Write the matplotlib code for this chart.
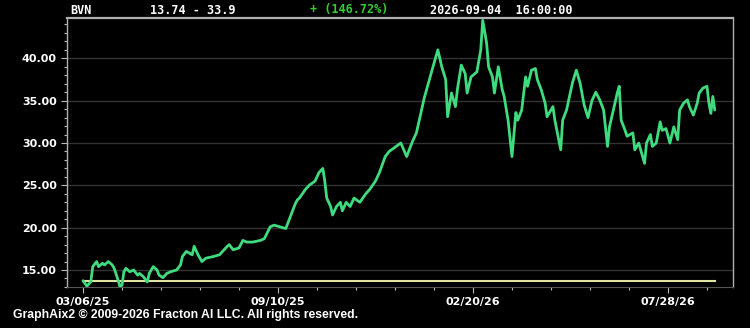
import matplotlib
matplotlib.use("Agg")
import matplotlib.pyplot as plt
from matplotlib.ticker import MultipleLocator, FixedLocator

ticker_sym = "BVN"
start_price = 13.74
end_price = 33.9
pct_change = "+ (146.72%)"
stamp = "2026-09-04  16:00:00"

bar_index = [0, 2, 4, 5, 7, 8, 10, 11, 13, 15, 16, 18, 19, 20, 21, 22, 24, 26, 28, 29,
             31, 33, 34, 36, 38, 39, 41, 43, 45, 48, 50, 51, 53, 56, 57, 59, 61, 63, 67, 70,
             74, 75, 77, 80, 82, 84, 87, 91, 93, 96, 98, 101, 104, 107, 109, 110, 111, 114, 116, 119,
             121, 123, 124, 125, 127, 128, 130, 132, 133, 135, 137, 139, 142, 145, 147, 150, 152, 155, 157, 160,
             163, 166, 169, 171, 174, 175, 178, 179, 182, 184, 186, 187, 189, 191, 192, 194, 196, 197, 199, 202,
             204, 205, 207, 208, 210, 211, 213, 215, 216, 218, 220, 222, 223, 225, 227, 228, 230, 232, 233, 235,
             237, 238, 241, 242, 245, 246, 248, 251, 253, 255, 257, 259, 261, 263, 265, 267, 269, 270, 272, 274,
             275, 276, 278, 279, 282, 283, 285, 287, 288, 289, 291, 292, 294, 296, 297, 299, 301, 303, 305, 306,
             308, 310, 311, 313, 315, 316, 318, 320, 321, 322, 323, 324]
close = [13.74, 13.1, 13.6, 15.4, 16.0, 15.4, 15.8, 15.6, 16.0, 15.6, 15.2, 13.8, 13.0, 13.2, 14.8, 15.2, 14.8, 15.0, 14.4, 14.6,
         14.2, 13.6, 14.6, 15.4, 15.0, 14.4, 14.1, 14.6, 14.8, 15.0, 15.6, 16.6, 17.2, 16.8, 17.8, 16.8, 16.0, 16.4, 16.6, 16.8,
         17.8, 18.0, 17.4, 17.6, 18.5, 18.3, 18.3, 18.5, 18.7, 20.1, 20.3, 20.1, 19.9, 21.7, 22.9, 23.3, 23.5, 24.5, 25.0, 25.5,
         26.5, 27.0, 25.5, 23.5, 22.5, 21.5, 22.5, 23.0, 22.0, 23.0, 22.5, 23.5, 23.0, 24.0, 24.5, 25.5, 26.5, 28.4, 29.0, 29.5,
         30.0, 28.4, 30.2, 31.2, 34.3, 35.3, 37.8, 38.6, 41.0, 39.0, 37.5, 33.1, 35.9, 34.3, 36.3, 39.2, 38.2, 35.9, 37.8, 38.4,
         41.0, 44.5, 41.8, 39.0, 37.8, 35.9, 39.0, 36.3, 35.5, 32.7, 28.4, 33.6, 32.7, 33.9, 37.8, 36.7, 38.6, 38.8, 37.5, 36.3,
         34.7, 33.1, 34.3, 32.7, 29.2, 32.7, 33.9, 37.1, 38.6, 37.0, 34.5, 33.0, 35.0, 36.0, 35.1, 33.9, 29.6, 31.9, 33.9, 35.9,
         36.7, 32.7, 31.5, 30.8, 31.2, 29.2, 30.0, 28.4, 27.6, 30.0, 31.0, 29.6, 30.0, 32.5, 31.5, 31.7, 30.0, 31.9, 30.4, 33.9,
         34.7, 35.1, 34.3, 33.3, 34.7, 35.9, 36.5, 36.7, 34.7, 33.5, 35.5, 33.9]

date_ticks = [0, 100, 200, 300]
date_labels = ["03/06/25", "09/10/25", "02/20/26", "07/28/26"]
y_ticks = [15, 20, 25, 30, 35, 40]

fig = plt.figure(figsize=(7.5, 3.28), dpi=100, facecolor="black")
ax = fig.add_axes([67 / 750, 1 - 287.3 / 328, (732.7 - 67) / 750, (287.3 - 17.7) / 328])
ax.set_facecolor("black")

for v in y_ticks:
    ax.axhline(v, color="#333333", lw=1.0, zorder=1)

ax.plot([bar_index[0], bar_index[-1]], [start_price, start_price], color="#dfe3a2", lw=1.5, zorder=2)
ax.plot(bar_index, close, color="#3fdc7f", lw=2.0, zorder=3,
        solid_joinstyle="round", solid_capstyle="round")

ax.set_xlim(-8.2, 333.2)
ax.set_ylim(12.96, 44.8)

ax.yaxis.set_major_locator(FixedLocator(y_ticks))
ax.yaxis.set_minor_locator(MultipleLocator(1))
ax.set_yticklabels([f"{v:.2f}" for v in y_ticks])
ax.xaxis.set_major_locator(FixedLocator(date_ticks))
ax.xaxis.set_minor_locator(MultipleLocator(20))
ax.set_xticklabels(date_labels)

ax.tick_params(axis="both", which="major", colors="#bbbbbb", labelcolor="white",
               labelsize=8, length=4, width=0.8)
ax.tick_params(axis="both", which="minor", colors="#bbbbbb", length=2.5, width=0.8)
ax.tick_params(axis="x", pad=3)
for lab in ax.get_xticklabels() + ax.get_yticklabels():
    lab.set_fontweight("bold")
    lab.set_family("DejaVu Sans")

ax.spines["top"].set_color("#b0b0b0")
ax.spines["top"].set_linewidth(1.6)
ax.spines["left"].set_color("#b0b0b0")
ax.spines["left"].set_linewidth(1.0)
ax.spines["right"].set_color("#b0b0b0")
ax.spines["right"].set_linewidth(1.0)
ax.spines["bottom"].set_color("#555555")
ax.spines["bottom"].set_linewidth(0.8)

hdr = dict(family="DejaVu Sans Mono", fontweight="bold", fontsize=8.5, va="center", ha="left")
fig.text(70 / 750, 1 - 10 / 328, ticker_sym, color="white", **hdr)
fig.text(150 / 750, 1 - 10 / 328, f"{start_price} - {end_price}", color="white", **hdr)
fig.text(310 / 750, 1 - 10 / 328, pct_change, color="#33cc33", **hdr)
fig.text(430 / 750, 1 - 10 / 328, stamp, color="white", **hdr)

fig.text(13 / 750, 1 - 315 / 328, "GraphAix2 \u00a9 2009-2026 Fracton AI LLC. All rights reserved.",
         color="white", family="Liberation Sans", fontweight="bold", fontsize=8.8,
         va="center", ha="left")

fig.savefig("out.png", dpi=100, facecolor="black")
